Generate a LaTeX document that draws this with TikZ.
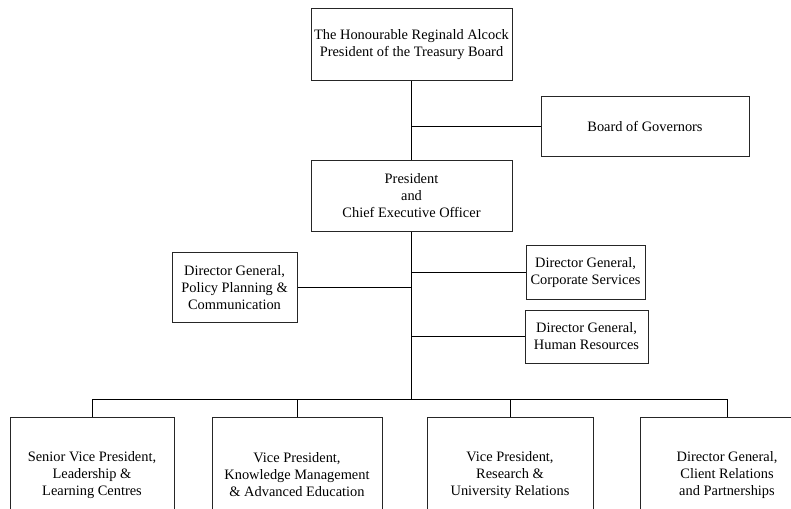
\documentclass[tikz,border=0pt]{standalone}
\usepackage{fontspec}
\setmainfont{Liberation Serif}
\usetikzlibrary{positioning}

\tikzset{
    orgbox/.style={draw=black!85, line width=1pt, align=center, inner sep=0pt,
        font=\fontsize{14.4}{17}\selectfont},
    link/.style={line width=1pt}
}

\begin{document}
\begin{tikzpicture}[x=1pt, y=-1pt]
    \useasboundingbox (0,0) rectangle (791,508);
    \clip (0,0) rectangle (791,508);
    % top of the chart
    \node[orgbox, minimum width=201, minimum height=72] (minister) at (411.5,45)
        {The Honourable Reginald Alcock\\President of the Treasury Board};
    \node[orgbox, minimum width=208, minimum height=60] (board) at (645,126.5)
        {Board of Governors};
    \node[orgbox, minimum width=201, minimum height=71] (pres) at (411.5,195.5)
        {President\\and\\Chief Executive Officer};
    % directors general beside the main line
    \node[orgbox, minimum width=125, minimum height=70] (policy) at (234.5,287.5)
        {Director General,\\Policy Planning \&\\Communication};
    \node[orgbox, minimum width=119, minimum height=54] (corp) at (585.5,272.5)
        {Director General,\\Corporate Services};
    \node[orgbox, minimum width=123, minimum height=53] (hr) at (586.5,336.5)
        {Director General,\\Human Resources};
    % bottom row
    \node[orgbox, minimum width=164, minimum height=116] (svp) at (92,475)
        {Senior Vice President,\\Leadership \&\\Learning Centres};
    \node[orgbox, minimum width=170, minimum height=116] (vpkm) at (297,475)
        {Vice President,\\Knowledge Management\\\& Advanced Education};
    \node[orgbox, minimum width=166, minimum height=116] (vpru) at (510,475)
        {Vice President,\\Research \&\\University Relations};
    \node[orgbox, minimum width=174, minimum height=116] (dgcr) at (727,475)
        {Director General,\\Client Relations\\and Partnerships};
    \coordinate (bus) at (411.5,399.5);

    \draw[link] (minister.south) -- (pres.north);
    \draw[link] (board.west) -- (board.west -| pres.north);
    \draw[link] (pres.south) -- (bus);
    \draw[link] (policy.east) -- (policy.east -| pres.south);
    \draw[link] (corp.west) -- (corp.west -| pres.south);
    \draw[link] (hr.west) -- (hr.west -| pres.south);
    \draw[link] (svp.north) |- (bus) -| (dgcr.north);
    \draw[link] (vpkm.north) -- (vpkm.north |- bus);
    \draw[link] (vpru.north) -- (vpru.north |- bus);
\end{tikzpicture}
\end{document}
